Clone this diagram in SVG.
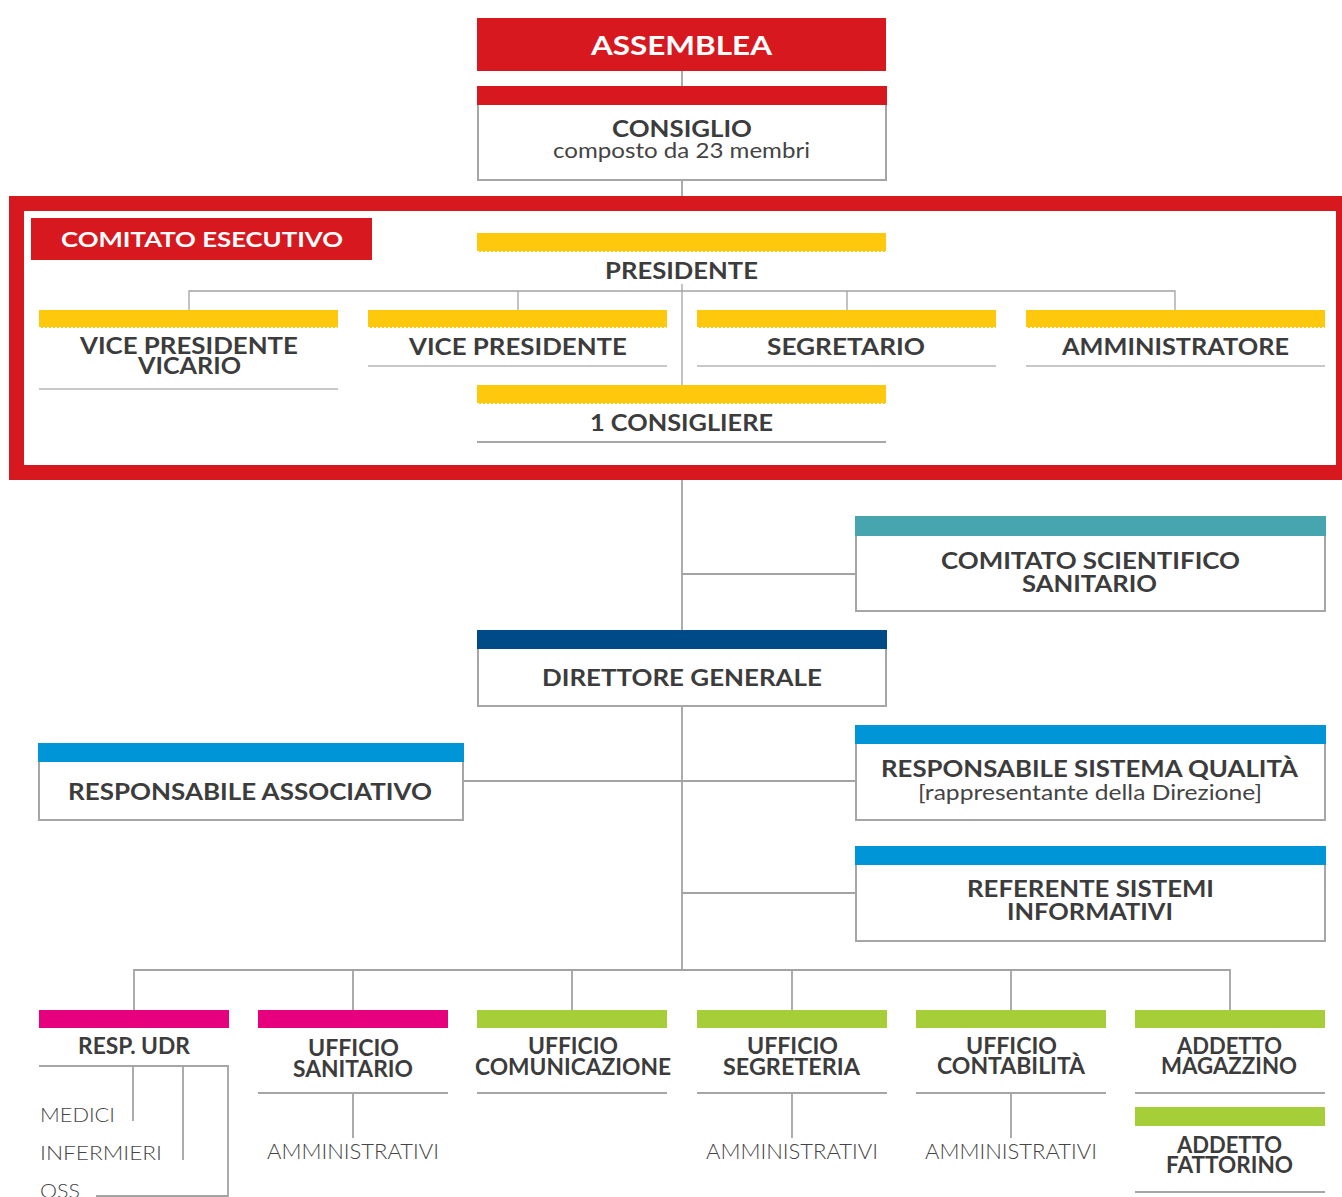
<svg xmlns="http://www.w3.org/2000/svg" width="1342" height="1197" viewBox="0 0 1342 1197">
<style>
text{font-family:Lato,"Noto Sans","Liberation Sans",sans-serif;text-anchor:middle}
.b{font-weight:700;fill:#3c3c3c;font-size:22px}
.bw{font-weight:700;fill:#ffffff}
.s{font-weight:400;fill:#444444;font-size:21px}
.r{font-weight:300;fill:#444444;font-size:21px}
.l{font-weight:300;fill:#444444;font-size:20px;text-anchor:start}
.box{fill:#fff;stroke:#a6a6a6;stroke-width:2}
.ul{stroke:#a6a6a6;stroke-width:2;fill:none}
.ul2{stroke:#c8c8c8;stroke-width:2;fill:none}
.yel{fill:#fec90c}
.dash{stroke:#fff;stroke-width:1;stroke-dasharray:2 2}
.con{stroke:#a3a3a3;stroke-width:1.8;fill:none}
.con1{stroke:#a3a3a3;stroke-width:1.3;fill:none}
</style>
<rect width="1342" height="1197" fill="#fff"/>
<g id="connectors">
<path class="con" d="M682 71V86M682 181V197M682 480V630M682 574H856M682 706V970M463 781H856M682 893H856"/>
<path class="con1" d="M682 284V385M189 310V291H1175V310M518 291V310M847 291V310"/>
<path class="con" d="M134 1010V970H1230V1010M353 970V1010M572 970V1010M792 970V1010M1011 970V1010"/>
<path class="con" d="M133 1066V1121M183 1066V1160M228 1066V1196H96M353 1093V1138M792 1093V1138M1011 1093V1138"/>
</g>
<g id="assemblea">
<rect x="477" y="18" width="409" height="53" fill="#d7181f"/>
<text class="bw" x="681.5" y="55" font-size="27" textLength="181" lengthAdjust="spacingAndGlyphs">ASSEMBLEA</text>
</g>
<g id="consiglio">
<rect class="box" x="478" y="87" width="408" height="93"/>
<rect x="477" y="86" width="410" height="19" fill="#d7181f"/>
<text class="b" x="682" y="137" font-size="23" textLength="140" lengthAdjust="spacingAndGlyphs">CONSIGLIO</text>
<text class="s" x="681.5" y="158" textLength="257" lengthAdjust="spacingAndGlyphs">composto da 23 membri</text>
</g>
<g id="comitato-esecutivo">
<rect x="16.5" y="203.5" width="1327" height="269" fill="none" stroke="#d7181f" stroke-width="15"/>
<rect x="31" y="218" width="341" height="42" fill="#d7181f"/>
<text class="bw" x="202" y="247" font-size="21" textLength="282" lengthAdjust="spacingAndGlyphs">COMITATO ESECUTIVO</text>
</g>
<g id="presidente">
<rect class="yel" x="477" y="233" width="409" height="19"/>
<line class="dash" x1="477" y1="251.5" x2="886" y2="251.5"/>
<text class="b" x="681.5" y="279" textLength="153" lengthAdjust="spacingAndGlyphs">PRESIDENTE</text>
</g>
<g id="vice-presidente-vicario">
<rect class="yel" x="39" y="310" width="299" height="18"/>
<line class="dash" x1="39" y1="327.5" x2="338" y2="327.5"/>
<text class="b" x="189" y="354" font-size="23" textLength="218" lengthAdjust="spacingAndGlyphs">VICE PRESIDENTE</text>
<text class="b" x="189.5" y="374" font-size="23" textLength="103" lengthAdjust="spacingAndGlyphs">VICARIO</text>
<line class="ul2" x1="39" y1="389" x2="338" y2="389"/>
</g>
<g id="vice-presidente">
<rect class="yel" x="368" y="310" width="299" height="18"/>
<line class="dash" x1="368" y1="327.5" x2="667" y2="327.5"/>
<text class="b" x="518" y="355" font-size="23" textLength="218" lengthAdjust="spacingAndGlyphs">VICE PRESIDENTE</text>
<line class="ul2" x1="368" y1="366" x2="667" y2="366"/>
</g>
<g id="segretario">
<rect class="yel" x="697" y="310" width="299" height="18"/>
<line class="dash" x1="697" y1="327.5" x2="996" y2="327.5"/>
<text class="b" x="846" y="355" font-size="23" textLength="158" lengthAdjust="spacingAndGlyphs">SEGRETARIO</text>
<line class="ul2" x1="697" y1="366" x2="996" y2="366"/>
</g>
<g id="amministratore">
<rect class="yel" x="1026" y="310" width="299" height="18"/>
<line class="dash" x1="1026" y1="327.5" x2="1325" y2="327.5"/>
<text class="b" x="1175.5" y="355" font-size="23" textLength="227" lengthAdjust="spacingAndGlyphs">AMMINISTRATORE</text>
<line class="ul2" x1="1026" y1="366" x2="1325" y2="366"/>
</g>
<g id="consigliere">
<rect class="yel" x="477" y="385" width="409" height="19"/>
<line class="dash" x1="477" y1="403.5" x2="886" y2="403.5"/>
<text class="b" x="681.5" y="431" textLength="183" lengthAdjust="spacingAndGlyphs">1 CONSIGLIERE</text>
<line class="ul" x1="477" y1="442" x2="886" y2="442"/>
</g>
<g id="comitato-scientifico">
<rect class="box" x="856" y="517" width="469" height="94"/>
<rect x="855" y="516" width="471" height="20" fill="#46a5ae"/>
<text class="b" x="1090.5" y="569" textLength="299" lengthAdjust="spacingAndGlyphs">COMITATO SCIENTIFICO</text>
<text class="b" x="1089.5" y="592" textLength="135" lengthAdjust="spacingAndGlyphs">SANITARIO</text>
</g>
<g id="direttore-generale">
<rect class="box" x="478" y="631" width="408" height="75"/>
<rect x="477" y="630" width="410" height="19" fill="#004a87"/>
<text class="b" x="682" y="686" textLength="280" lengthAdjust="spacingAndGlyphs">DIRETTORE GENERALE</text>
</g>
<g id="responsabile-associativo">
<rect class="box" x="39" y="744" width="424" height="76"/>
<rect x="38" y="743" width="426" height="19" fill="#0095d7"/>
<text class="b" x="250" y="800" textLength="364" lengthAdjust="spacingAndGlyphs">RESPONSABILE ASSOCIATIVO</text>
</g>
<g id="responsabile-qualita">
<rect class="box" x="856" y="726" width="469" height="94"/>
<rect x="855" y="725" width="471" height="19" fill="#0095d7"/>
<text class="b" x="1089.5" y="777" textLength="417" lengthAdjust="spacingAndGlyphs">RESPONSABILE SISTEMA QUALITÀ</text>
<text class="s" x="1090" y="800" textLength="344" lengthAdjust="spacingAndGlyphs">[rappresentante della Direzione]</text>
</g>
<g id="referente-sistemi">
<rect class="box" x="856" y="847" width="469" height="94"/>
<rect x="855" y="846" width="471" height="19" fill="#0095d7"/>
<text class="b" x="1090.5" y="897" textLength="247" lengthAdjust="spacingAndGlyphs">REFERENTE SISTEMI</text>
<text class="b" x="1090" y="920" textLength="166" lengthAdjust="spacingAndGlyphs">INFORMATIVI</text>
</g>
<g id="resp-udr">
<rect x="39" y="1010" width="190" height="18" fill="#e6007e"/>
<text class="b" x="134" y="1054" font-size="20" textLength="112" lengthAdjust="spacingAndGlyphs">RESP. UDR</text>
<line class="ul" x1="39" y1="1066" x2="229" y2="1066"/>
<text class="l" x="40" y="1122" textLength="75" lengthAdjust="spacingAndGlyphs">MEDICI</text>
<text class="l" x="40" y="1160" textLength="122" lengthAdjust="spacingAndGlyphs">INFERMIERI</text>
<text class="l" x="40" y="1198" textLength="40" lengthAdjust="spacingAndGlyphs">OSS</text>
</g>
<g id="ufficio-sanitario">
<rect x="258" y="1010" width="190" height="18" fill="#e6007e"/>
<text class="b" x="353.5" y="1056" font-size="20" textLength="91" lengthAdjust="spacingAndGlyphs">UFFICIO</text>
<text class="b" x="353" y="1077" font-size="20" textLength="120" lengthAdjust="spacingAndGlyphs">SANITARIO</text>
<line class="ul" x1="258" y1="1093" x2="448" y2="1093"/>
<text class="r" x="353" y="1159" textLength="172" lengthAdjust="spacingAndGlyphs">AMMINISTRATIVI</text>
</g>
<g id="ufficio-comunicazione">
<rect x="477" y="1010" width="190" height="18" fill="#a6ce39"/>
<text class="b" x="573" y="1054" font-size="20" textLength="90" lengthAdjust="spacingAndGlyphs">UFFICIO</text>
<text class="b" x="573" y="1075" font-size="20" textLength="196" lengthAdjust="spacingAndGlyphs">COMUNICAZIONE</text>
<line class="ul" x1="477" y1="1093" x2="667" y2="1093"/>
</g>
<g id="ufficio-segreteria">
<rect x="697" y="1010" width="190" height="18" fill="#a6ce39"/>
<text class="b" x="792.5" y="1054" font-size="20" textLength="91" lengthAdjust="spacingAndGlyphs">UFFICIO</text>
<text class="b" x="791.5" y="1075" font-size="20" textLength="137" lengthAdjust="spacingAndGlyphs">SEGRETERIA</text>
<line class="ul" x1="697" y1="1093" x2="887" y2="1093"/>
<text class="r" x="792" y="1159" textLength="172" lengthAdjust="spacingAndGlyphs">AMMINISTRATIVI</text>
</g>
<g id="ufficio-contabilita">
<rect x="916" y="1010" width="190" height="18" fill="#a6ce39"/>
<text class="b" x="1011.5" y="1054" font-size="20" textLength="91" lengthAdjust="spacingAndGlyphs">UFFICIO</text>
<text class="b" x="1011" y="1074" font-size="20" textLength="148" lengthAdjust="spacingAndGlyphs">CONTABILITÀ</text>
<line class="ul" x1="916" y1="1093" x2="1106" y2="1093"/>
<text class="r" x="1011" y="1159" textLength="172" lengthAdjust="spacingAndGlyphs">AMMINISTRATIVI</text>
</g>
<g id="addetto-magazzino">
<rect x="1135" y="1010" width="190" height="18" fill="#a6ce39"/>
<text class="b" x="1229.5" y="1054" font-size="20" textLength="105" lengthAdjust="spacingAndGlyphs">ADDETTO</text>
<text class="b" x="1229" y="1074" font-size="20" textLength="136" lengthAdjust="spacingAndGlyphs">MAGAZZINO</text>
<line class="ul" x1="1135" y1="1093" x2="1325" y2="1093"/>
</g>
<g id="addetto-fattorino">
<rect x="1135" y="1107" width="190" height="19" fill="#a6ce39"/>
<text class="b" x="1229.5" y="1153" font-size="20" textLength="105" lengthAdjust="spacingAndGlyphs">ADDETTO</text>
<text class="b" x="1229.5" y="1173" font-size="20" textLength="127" lengthAdjust="spacingAndGlyphs">FATTORINO</text>
<line class="ul" x1="1135" y1="1192" x2="1325" y2="1192"/>
</g>
</svg>
